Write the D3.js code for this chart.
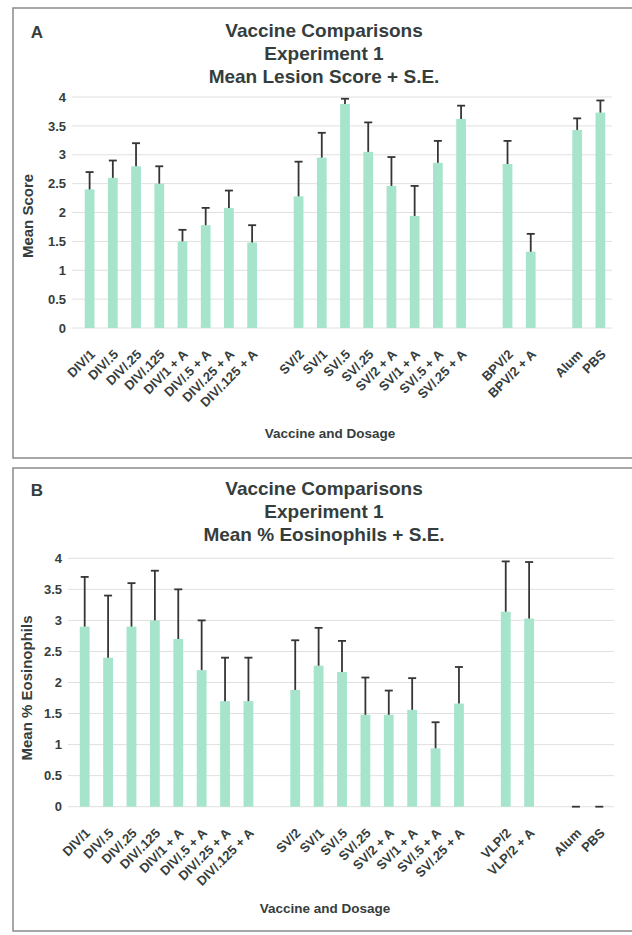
<!DOCTYPE html>
<html>
<head>
<meta charset="utf-8">
<script src="https://cdn.jsdelivr.net/npm/d3@7"></script>
<style>
  html, body { margin: 0; padding: 0; background: #fff; }
  svg { display: block; }
  text { font-family: "Liberation Sans", Arial, sans-serif; fill: #353d3d; font-weight: bold; }
</style>
</head>
<body>
<svg id="chart" width="632" height="935"></svg>
<script>
// Category slots (empty strings are spacer slots between vaccine groups)
const categoriesA = ["DIV/1", "DIV/.5", "DIV/.25", "DIV/.125", "DIV/1 + A", "DIV/.5 + A", "DIV/.25 + A", "DIV/.125 + A", "",
  "SV/2", "SV/1", "SV/.5", "SV/.25", "SV/2 + A", "SV/1 + A", "SV/.5 + A", "SV/.25 + A", "",
  "BPV/2", "BPV/2 + A", "", "Alum", "PBS"];
const categoriesB = ["DIV/1", "DIV/.5", "DIV/.25", "DIV/.125", "DIV/1 + A", "DIV/.5 + A", "DIV/.25 + A", "DIV/.125 + A", "",
  "SV/2", "SV/1", "SV/.5", "SV/.25", "SV/2 + A", "SV/1 + A", "SV/.5 + A", "SV/.25 + A", "",
  "VLP/2", "VLP/2 + A", "", "Alum", "PBS"];

// Panel A: mean lesion score and standard error
const lesionMean = [2.4, 2.6, 2.8, 2.5, 1.5, 1.78, 2.08, 1.48, null,
  2.28, 2.95, 3.88, 3.05, 2.46, 1.94, 2.86, 3.62, null,
  2.84, 1.32, null, 3.43, 3.73];
const lesionSE = [0.3, 0.3, 0.4, 0.3, 0.2, 0.3, 0.3, 0.3, null,
  0.6, 0.43, 0.09, 0.51, 0.5, 0.52, 0.38, 0.23, null,
  0.4, 0.31, null, 0.2, 0.21];

// Panel B: mean % eosinophils and standard error
const eosMean = [2.9, 2.4, 2.9, 3.0, 2.7, 2.2, 1.7, 1.7, null,
  1.88, 2.27, 2.17, 1.48, 1.48, 1.56, 0.94, 1.66, null,
  3.14, 3.03, null, 0, 0];
const eosSE = [0.8, 1.0, 0.7, 0.8, 0.8, 0.8, 0.7, 0.7, null,
  0.8, 0.61, 0.5, 0.6, 0.39, 0.51, 0.42, 0.59, null,
  0.81, 0.91, null, 0, 0];

const yTicks = [0, 0.5, 1, 1.5, 2, 2.5, 3, 3.5, 4];
const yTickLabels = ["0", "0.5", "1", "1.5", "2", "2.5", "3", "3.5", "4"];

const titleLine1 = "Vaccine Comparisons";
const titleLine2 = "Experiment 1";

const svg = d3.select("#chart");

function drawPanel(opts) {
  const g = svg.append("g");

  // frame
  g.append("rect")
    .attr("x", opts.box[0]).attr("y", opts.box[1])
    .attr("width", opts.box[2]).attr("height", opts.box[3])
    .attr("fill", "#fff").attr("stroke", "#8a8a8a").attr("stroke-width", 1.5);

  // panel letter
  g.append("text").attr("x", 37).attr("y", opts.titleY[0] + 2)
    .attr("dy", "0.35em").attr("font-size", 17).attr("text-anchor", "middle").text(opts.letter);

  // three-line title
  [titleLine1, titleLine2, opts.title3].forEach((t, i) => {
    g.append("text").attr("x", 324).attr("y", opts.titleY[i])
      .attr("dy", "0.35em").attr("text-anchor", "middle")
      .attr("font-size", 19).text(t);
  });

  const idx = d3.range(opts.categories.length);
  const x = d3.scaleBand().domain(idx).range(opts.xRange).paddingInner(0.58).paddingOuter(0.29);
  const y = d3.scaleLinear().domain([0, 4]).range(opts.yRange);

  // gridlines
  g.append("g").selectAll("line").data(yTicks).join("line")
    .attr("x1", opts.gridX[0]).attr("x2", opts.gridX[1])
    .attr("y1", d => y(d)).attr("y2", d => y(d))
    .attr("stroke", "#e0e0e0").attr("stroke-width", 1);

  // y axis tick labels
  const yAxis = d3.axisLeft(y).tickValues(yTicks)
    .tickFormat((d, i) => yTickLabels[i]).tickSize(0).tickPadding(0);
  const ya = g.append("g").attr("transform", `translate(${opts.yLabelX},0)`).call(yAxis);
  ya.select(".domain").remove();
  ya.selectAll("text").attr("font-size", 13).attr("font-family", null).attr("fill", "#353d3d");

  // y axis title
  g.append("text")
    .attr("transform", `translate(${opts.yTitle[0]},${opts.yTitle[1]}) rotate(-90)`)
    .attr("text-anchor", "middle").attr("dy", "0.35em")
    .attr("font-size", 15).text(opts.yTitleText);

  const rows = idx.filter(i => opts.mean[i] !== null)
    .map(i => ({ i, m: opts.mean[i], se: opts.se[i] }));

  // bars
  g.append("g").selectAll("rect").data(rows).join("rect")
    .attr("x", d => x(d.i)).attr("width", x.bandwidth())
    .attr("y", d => y(d.m)).attr("height", d => y(0) - y(d.m))
    .attr("fill", "#a6e5cc");

  // error bars (+ S.E. only)
  const eb = g.append("g").attr("stroke", "#353535").attr("stroke-width", 1.8);
  eb.selectAll("line.v").data(rows).join("line").attr("class", "v")
    .attr("x1", d => x(d.i) + x.bandwidth() / 2).attr("x2", d => x(d.i) + x.bandwidth() / 2)
    .attr("y1", d => y(d.m)).attr("y2", d => y(d.m + d.se));
  eb.selectAll("line.c").data(rows).join("line").attr("class", "c")
    .attr("x1", d => x(d.i) + x.bandwidth() / 2 - 4).attr("x2", d => x(d.i) + x.bandwidth() / 2 + 4)
    .attr("y1", d => y(d.m + d.se)).attr("y2", d => y(d.m + d.se));

  // x axis category labels
  const xAxis = d3.axisBottom(x).tickFormat(i => opts.categories[i]).tickSize(0).tickPadding(0);
  const xa = g.append("g").attr("transform", `translate(0,${opts.yRange[0] + 24})`).call(xAxis);
  xa.select(".domain").remove();
  xa.selectAll("text")
    .attr("font-size", 13).attr("font-family", null).attr("fill", "#353d3d")
    .attr("text-anchor", "end")
    .attr("transform", "translate(3,0) rotate(-45)")
    .attr("y", 0).attr("dx", 0).attr("dy", "0.35em");

  // x axis title
  g.append("text").attr("x", opts.xTitle[0]).attr("y", opts.xTitle[1])
    .attr("text-anchor", "middle").attr("dy", "0.35em")
    .attr("font-size", 13.5).text("Vaccine and Dosage");
}

drawPanel({
  letter: "A",
  box: [13, 8, 620, 450],
  titleY: [30, 53, 76],
  title3: "Mean Lesion Score + S.E.",
  categories: categoriesA,
  mean: lesionMean, se: lesionSE,
  xRange: [78, 612], yRange: [328, 97], gridX: [72, 612],
  yLabelX: 66, yTitle: [28, 216], yTitleText: "Mean Score",
  xTitle: [330, 433]
});

drawPanel({
  letter: "B",
  box: [13, 468, 620, 463],
  titleY: [488, 511, 534],
  title3: "Mean % Eosinophils + S.E.",
  categories: categoriesB,
  mean: eosMean, se: eosSE,
  xRange: [73, 611], yRange: [806.7, 558.3], gridX: [68, 614],
  yLabelX: 62, yTitle: [27, 688], yTitleText: "Mean % Eosinophils",
  xTitle: [325, 908]
});
</script>
</body>
</html>
